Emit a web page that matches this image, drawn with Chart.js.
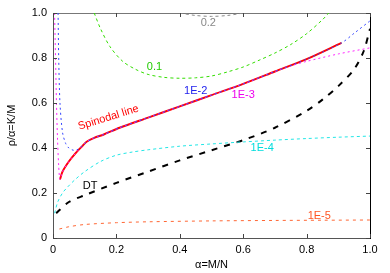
<!DOCTYPE html>
<html lang="en">
<head>
    <meta charset="UTF-8">
    <title>Spinodal line</title>
    <script src="https://cdn.jsdelivr.net/npm/chart.js"></script>
    <style>
        html, body { margin: 0; padding: 0; background: #fff; }
        #wrap { width: 390px; height: 273px; }
    </style>
</head>
<body>
    <div id="wrap"><canvas id="chart"></canvas></div>

    <script>
        // curve data: x = alpha (M/N), y = rho/alpha (K/M)
        const xTicks = [0, 0.2, 0.4, 0.6, 0.8, 1];
        const yTicks = [0, 0.2, 0.4, 0.6, 0.8, 1];

        const spinX = [0.022, 0.03, 0.05, 0.07, 0.09, 0.106, 0.13, 0.16, 0.21, 0.3, 0.4, 0.5, 0.6, 0.7, 0.8, 0.91];
        const spinY = [0.26, 0.295, 0.34, 0.375, 0.405, 0.428, 0.445, 0.46, 0.49, 0.535, 0.585, 0.635, 0.685, 0.74, 0.795, 0.867];

        const e2X = [0.016, 0.018, 0.022, 0.03, 0.04, 0.05, 0.065, 0.08, 0.1, 0.13, 0.16, 0.21, 0.3, 0.4, 0.5, 0.6, 0.7, 0.8, 0.91, 0.95, 1.0];
        const e2Y = [1.0, 0.8, 0.6, 0.47, 0.42, 0.4, 0.39, 0.395, 0.42, 0.445, 0.46, 0.49, 0.535, 0.585, 0.635, 0.685, 0.74, 0.795, 0.867, 0.91, 0.965];

        const e3X = [0.005, 0.008, 0.011, 0.014, 0.018, 0.022, 0.03, 0.05, 0.07, 0.09, 0.106, 0.13, 0.16, 0.21, 0.3, 0.4, 0.5, 0.6, 0.7, 0.75, 0.8, 0.9, 1.0];
        const e3Y = [1.0, 0.8, 0.6, 0.45, 0.32, 0.26, 0.295, 0.34, 0.375, 0.405, 0.428, 0.445, 0.46, 0.49, 0.535, 0.585, 0.635, 0.685, 0.74, 0.765, 0.785, 0.818, 0.845];

        const e4X = [0.005, 0.015, 0.03, 0.045, 0.07, 0.1, 0.15, 0.2, 0.25, 0.3, 0.4, 0.5, 0.6, 0.7, 0.8, 0.9, 1.0];
        const e4Y = [0.11, 0.16, 0.2, 0.225, 0.26, 0.295, 0.34, 0.368, 0.382, 0.392, 0.408, 0.418, 0.427, 0.435, 0.442, 0.448, 0.453];

        const e5X = [0.02, 0.05, 0.1, 0.2, 0.3, 0.5, 0.7, 0.85, 1.0];
        const e5Y = [0.04, 0.05, 0.06, 0.068, 0.072, 0.076, 0.078, 0.079, 0.08];

        const dtX = [0.01, 0.05, 0.1, 0.2, 0.3, 0.4, 0.5, 0.6, 0.7, 0.8, 0.85, 0.9, 0.95, 0.98, 1.0];
        const dtY = [0.11, 0.16, 0.19, 0.245, 0.295, 0.345, 0.39, 0.435, 0.49, 0.565, 0.615, 0.675, 0.75, 0.83, 0.93];

        const g1X = [0.13, 0.15, 0.18, 0.22, 0.26, 0.3, 0.35, 0.4, 0.45, 0.5, 0.55, 0.6, 0.65, 0.7, 0.75, 0.8, 0.85, 0.87];
        const g1Y = [1.0, 0.93, 0.85, 0.785, 0.75, 0.727, 0.714, 0.71, 0.712, 0.72, 0.738, 0.76, 0.79, 0.822, 0.86, 0.908, 0.97, 1.0];

        const g2X = [0.4, 0.45, 0.5, 0.55, 0.6];
        const g2Y = [1.0, 0.989, 0.985, 0.989, 1.0];

        // text labels placed in data coordinates
        const labels = [
            { text: '0.1', x: 0.32, y: 0.76, color: '#22cc00' },
            { text: '0.2', x: 0.49, y: 0.955, color: '#888888' },
            { text: '1E-2', x: 0.45, y: 0.655, color: '#2222ee' },
            { text: '1E-3', x: 0.6, y: 0.635, color: '#ee00ee' },
            { text: '1E-4', x: 0.66, y: 0.4, color: '#00dddd' },
            { text: '1E-5', x: 0.84, y: 0.1, color: '#ff5522' },
            { text: 'DT', x: 0.117, y: 0.23, color: '#000000' }
        ];

        function pts(xs, ys) {
            return xs.map((x, i) => ({ x: x, y: ys[i] }));
        }

        function curve(label, xs, ys, color, dash, width) {
            return {
                label: label,
                data: pts(xs, ys),
                borderColor: color,
                borderDash: dash,
                borderWidth: width,
                pointRadius: 0,
                tension: 0.3,
                fill: false
            };
        }

        const textPlugin = {
            id: 'textPlugin',
            afterDraw(chart) {
                const ctx = chart.ctx;
                const xs = chart.scales.x, ys = chart.scales.y;
                const area = chart.chartArea;
                ctx.save();

                // inward ticks on all four sides
                ctx.strokeStyle = '#444';
                ctx.lineWidth = 1;
                xTicks.forEach(v => {
                    const px = Math.round(xs.getPixelForValue(v)) + 0.5;
                    ctx.beginPath();
                    ctx.moveTo(px, area.bottom); ctx.lineTo(px, area.bottom - 4);
                    ctx.moveTo(px, area.top); ctx.lineTo(px, area.top + 4);
                    ctx.stroke();
                });
                yTicks.forEach(v => {
                    const py = Math.round(ys.getPixelForValue(v)) + 0.5;
                    ctx.beginPath();
                    ctx.moveTo(area.left, py); ctx.lineTo(area.left + 4, py);
                    ctx.moveTo(area.right, py); ctx.lineTo(area.right - 4, py);
                    ctx.stroke();
                });

                ctx.font = '11px "Liberation Sans", Arial, sans-serif';
                ctx.textAlign = 'center';
                ctx.textBaseline = 'middle';
                labels.forEach(l => {
                    ctx.fillStyle = l.color;
                    ctx.fillText(l.text, xs.getPixelForValue(l.x), ys.getPixelForValue(l.y));
                });

                // rotated label along the spinodal line
                ctx.save();
                ctx.translate(xs.getPixelForValue(0.175), ys.getPixelForValue(0.535));
                ctx.rotate(-0.3);
                ctx.fillStyle = '#ff0000';
                ctx.fillText('Spinodal line', 0, 0);
                ctx.restore();

                // axis titles
                ctx.fillStyle = '#000';
                ctx.fillText('\u03b1=M/N', (area.left + area.right) / 2, 265);
                ctx.save();
                ctx.translate(12, (area.top + area.bottom) / 2);
                ctx.rotate(-Math.PI / 2);
                ctx.fillText('\u03c1/\u03b1=K/M', 0, 0);
                ctx.restore();

                ctx.restore();
            }
        };

        const ctx = document.getElementById('chart').getContext('2d');

        new Chart(ctx, {
            type: 'line',
            data: {
                datasets: [
                    curve('1E-2', e2X, e2Y, '#3344ff', [2, 3], 1),
                    curve('1E-3', e3X, e3Y, '#ff22ff', [2, 3], 1),
                    curve('Spinodal line', spinX, spinY, '#ff0000', [], 2),
                    curve('0.1', g1X, g1Y, '#33dd00', [3, 3], 1),
                    curve('0.2', g2X, g2Y, '#888888', [3, 3], 1),
                    curve('1E-4', e4X, e4Y, '#22e6e6', [3, 3], 1),
                    curve('1E-5', e5X, e5Y, '#ff6633', [3, 4], 1),
                    curve('DT', dtX, dtY, '#000000', [6, 7], 2)
                ]
            },
            options: {
                responsive: true,
                maintainAspectRatio: false,
                animation: false,
                layout: { padding: { top: 13, right: 20, left: 0, bottom: 0 } },
                plugins: {
                    legend: { display: false },
                    tooltip: { enabled: false }
                },
                scales: {
                    x: {
                        type: 'linear',
                        min: 0, max: 1,
                        afterFit: s => { s.height = 35; },
                        grid: { display: false, drawTicks: false },
                        border: { display: true, color: '#555', width: 1 },
                        ticks: {
                            stepSize: 0.2,
                            padding: 5,
                            color: '#000',
                            font: { family: '"Liberation Sans", Arial, sans-serif', size: 11 }
                        }
                    },
                    y: {
                        min: 0, max: 1,
                        afterFit: s => { s.width = 53; },
                        grid: { display: false, drawTicks: false },
                        border: { display: true, color: '#555', width: 1 },
                        ticks: {
                            stepSize: 0.2,
                            padding: 6,
                            color: '#000',
                            font: { family: '"Liberation Sans", Arial, sans-serif', size: 11 }
                        }
                    },
                    x2: {
                        type: 'linear', position: 'top', min: 0, max: 1,
                        afterFit: s => { s.height = 0; },
                        grid: { display: false, drawTicks: false },
                        border: { display: true, color: '#777', width: 1 },
                        ticks: { display: false }
                    },
                    y2: {
                        type: 'linear', position: 'right', min: 0, max: 1,
                        afterFit: s => { s.width = 0; },
                        grid: { display: false, drawTicks: false },
                        border: { display: true, color: '#000', width: 1 },
                        ticks: { display: false }
                    }
                }
            },
            plugins: [textPlugin]
        });
    </script>
</body>
</html>
